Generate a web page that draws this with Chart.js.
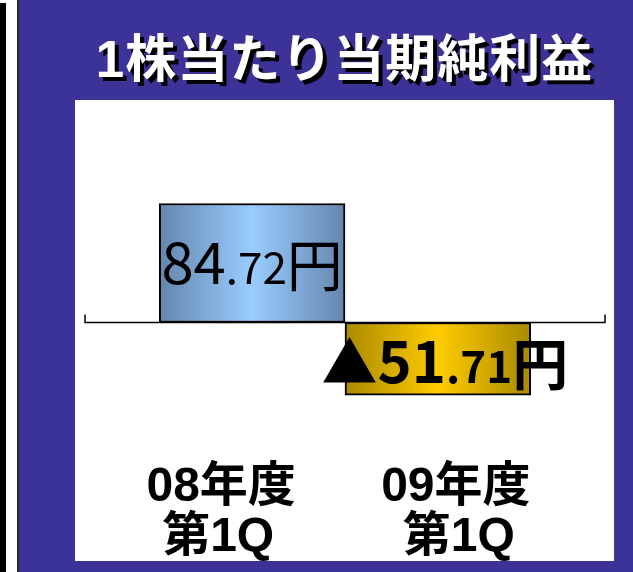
<!DOCTYPE html>
<html><head><meta charset="utf-8">
<script src="https://cdn.jsdelivr.net/npm/chart.js@4/dist/chart.umd.min.js"></script>
<style>
html,body{margin:0;padding:0;width:633px;height:572px;overflow:hidden;background:#fff;}
#blue{position:absolute;left:19px;top:0;width:614px;height:572px;background:#3C3399;}
#black{position:absolute;left:0;top:3px;width:6px;height:569px;background:#000;}
#rule{position:absolute;left:17px;top:0;width:2px;height:572px;background:#2a2a2a;}
#panel{position:absolute;left:75px;top:100px;width:539px;height:461px;background:#fff;}
#title{position:absolute;left:75px;width:539px;top:34px;line-height:52px;text-align:center;color:#fff;
  font-family:"Liberation Sans","Noto Sans CJK JP";font-weight:700;font-size:51px;letter-spacing:1px;text-shadow:4px 4px 0 #000;white-space:nowrap;}
canvas{position:absolute;left:0;top:0;}
</style></head>
<body>
<div id="black"></div><div id="rule"></div><div id="blue"></div><div id="panel"></div>
<div id="title">1株当たり当期純利益</div>
<canvas id="c" width="633" height="572"></canvas>
<script>
const chartTitle = '1株当たり当期純利益';
const categories = [['08年度', '第1Q'], ['09年度', '第1Q']];
const barX = [1, 2];
const eps = [84.72, -51.71];
const unit = '円';
const negMark = '▲';

const gradStops = [
  ['#6586AD', '#99CCFF'],
  ['#A98A00', '#FFCC00']
];

function barGradient(c) {
  const chart = c.chart;
  const stops = gradStops[c.dataIndex] || gradStops[0];
  const xs = chart.scales && chart.scales.x;
  if (!xs || !chart.chartArea || c.raw == null) return stops[1];
  const x = c.raw.x;
  const l = xs.getPixelForValue(x - 0.5), r = xs.getPixelForValue(x + 0.5);
  if (!isFinite(l) || !isFinite(r)) return stops[1];
  const g = chart.ctx.createLinearGradient(l, 0, r, 0);
  g.addColorStop(0, stops[0]);
  g.addColorStop(0.5, stops[1]);
  g.addColorStop(1, stops[0]);
  return g;
}

const FONT = '"Noto Sans CJK JP"';
const LFONT = '"Liberation Sans", "Noto Sans CJK JP"';

const zeroLine = {
  id: 'zeroLine',
  afterDatasetsDraw(chart) {
    const {ctx, chartArea, scales} = chart;
    const y0 = scales.y.getPixelForValue(0);
    ctx.save();
    ctx.strokeStyle = '#000';
    ctx.lineWidth = 1.5;
    ctx.beginPath();
    ctx.moveTo(chartArea.left, y0 - 8);
    ctx.lineTo(chartArea.left, y0);
    ctx.lineTo(chartArea.right, y0);
    ctx.lineTo(chartArea.right, y0 - 8);
    ctx.stroke();
    ctx.restore();
  }
};

function valueParts(v) {
  const s = Math.abs(v).toFixed(2);
  const [ip, dp] = s.split('.');
  const parts = [];
  if (v < 0) parts.push({t: negMark, big: true, mark: true});
  parts.push({t: ip, big: true});
  parts.push({t: '.' + dp, big: false});
  parts.push({t: unit, big: true, kanji: true});
  return parts;
}

const valueLabels = {
  id: 'valueLabels',
  afterDatasetsDraw(chart) {
    const {ctx} = chart;
    const meta = chart.getDatasetMeta(0);
    meta.data.forEach((el, i) => {
      const v = eps[i];
      const neg = v < 0;
      const weight = neg ? '700' : '400';
      const parts = valueParts(v);
      const fontFor = p => {
        const size = p.mark ? 56 : (p.kanji ? 56 : (p.big ? 58 : 44));
        return weight + ' ' + size + 'px ' + FONT;
      };
      ctx.save();
      let total = 0;
      parts.forEach(p => { ctx.font = fontFor(p); p.w = ctx.measureText(p.t).width; total += p.w; });
      const cx = el.x + (neg ? 7 : 0);
      const top = Math.min(el.y, el.base), bot = Math.max(el.y, el.base);
      const baseline = (top + bot) / 2 + (neg ? 24 : 21);
      let x = cx - total / 2;
      ctx.fillStyle = '#000';
      ctx.textBaseline = 'alphabetic';
      ctx.textAlign = 'left';
      parts.forEach(p => {
        ctx.font = fontFor(p);
        ctx.fillText(p.t, x, baseline + (p.kanji ? 2 : 0));
        x += p.w;
      });
      ctx.restore();
    });
  }
};

const catLabels = {
  id: 'catLabels',
  afterDraw(chart, args, opts) {
    const {ctx, scales} = chart;
    ctx.save();
    ctx.fillStyle = '#000';
    ctx.textAlign = 'center';
    ctx.textBaseline = 'alphabetic';
    ctx.font = '700 48px ' + LFONT;
    categories.forEach((lines, i) => {
      const x = scales.x.getPixelForValue(barX[i]) + opts.shift[i];
      lines.forEach((ln, j) => {
        ctx.fillText(ln, x + opts.lineShift[i][j], opts.baseline + j * opts.lineGap);
      });
    });
    ctx.restore();
  }
};

new Chart(document.getElementById('c'), {
  type: 'bar',
  data: {
    datasets: [{
      data: eps.map((v, i) => ({x: barX[i], y: v})),
      backgroundColor: barGradient,
      borderColor: '#000',
      borderWidth: 2,
      borderSkipped: false,
      barPercentage: 1,
      categoryPercentage: 1
    }]
  },
  options: {
    responsive: false,
    animation: false,
    devicePixelRatio: 1,
    layout: {padding: {left: 85, right: 28, top: 182, bottom: 109}},
    scales: {
      x: {type: 'linear', min: 0.1, max: 2.9, offset: false, display: false,
          afterBuildTicks: s => { s.ticks = barX.map(v => ({value: v})); }},
      y: {min: -100, max: 100, display: false}
    },
    plugins: {
      legend: {display: false},
      tooltip: {enabled: false},
      title: {display: false},
      catLabels: {shift: [-31, 18], lineShift: [[0, -3], [0, 3]], baseline: 501, lineGap: 50}
    }
  },
  plugins: [zeroLine, valueLabels, catLabels]
});
</script>
</body></html>
